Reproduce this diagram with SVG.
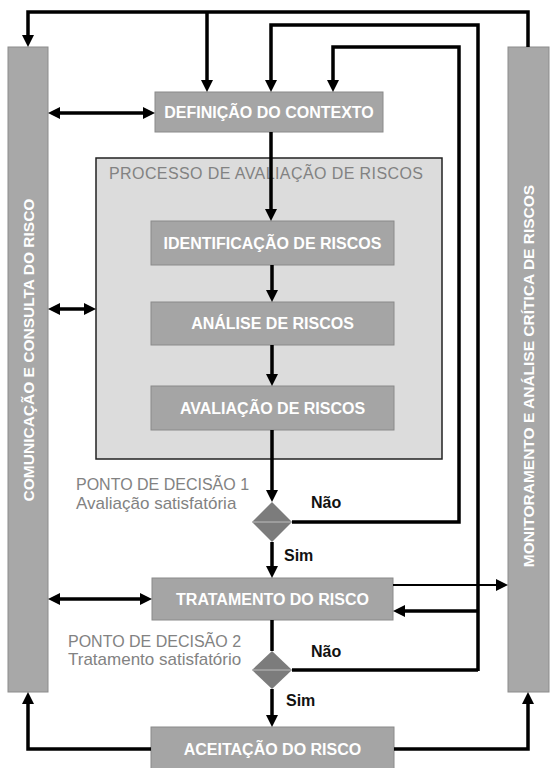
<svg xmlns="http://www.w3.org/2000/svg" width="554" height="768" viewBox="0 0 554 768">
<style>
.bar{fill:#a8a8a8;stroke:#8c8c8c;stroke-width:1}
.box{fill:#a5a5a5;stroke:#8a8a8a;stroke-width:1}
.bt{font-family:"Liberation Sans",Arial,sans-serif;font-weight:bold;font-size:16px;fill:#fff;text-anchor:middle}
.vt{font-family:"Liberation Sans",Arial,sans-serif;font-weight:bold;font-size:15.5px;fill:#fff;text-anchor:middle}
.gt{font-family:"Liberation Sans",Arial,sans-serif;font-size:16px;fill:#828282}
.lb{font-family:"Liberation Sans",Arial,sans-serif;font-weight:bold;font-size:16px;fill:#111}
.c{fill:none;stroke:#000;stroke-width:3.5}
.thin{fill:none;stroke:#000;stroke-width:2}
.dia{fill:#7c7c7c}
</style>
<defs>
<marker id="ah" viewBox="0 0 12 12" refX="8" refY="6" markerWidth="12" markerHeight="12" markerUnits="userSpaceOnUse" orient="auto-start-reverse">
<path d="M0,0 L12,6 L0,12 z" fill="#000"/>
</marker>
</defs>

<g id="comunicacao">
<rect class="bar" x="8" y="47" width="40" height="645"/>
<text class="vt" transform="translate(28,350) rotate(-90)" y="5.5">COMUNICAÇÃO E CONSULTA DO RISCO</text>
</g>
<g id="monitoramento">
<rect class="bar" x="508" y="47" width="41" height="645"/>
<text class="vt" transform="translate(528,376) rotate(-90)" y="5.5">MONITORAMENTO E ANÁLISE CRÍTICA DE RISCOS</text>
</g>
<g id="definicao">
<rect class="box" x="155" y="92" width="228" height="40"/>
<text class="bt" x="269" y="117.5">DEFINIÇÃO DO CONTEXTO</text>
</g>
<g id="processo">
<rect x="96" y="158" width="346" height="301" fill="#dcdcdc" stroke="#222" stroke-width="1.5"/>
<text class="gt" x="109" y="179" textLength="314">PROCESSO DE AVALIAÇÃO DE RISCOS</text>
</g>
<g id="identificacao">
<rect class="box" x="151" y="221" width="243" height="44"/>
<text class="bt" x="272.5" y="248.5">IDENTIFICAÇÃO DE RISCOS</text>
</g>
<g id="analise">
<rect class="box" x="151" y="302" width="243" height="43"/>
<text class="bt" x="272.5" y="329">ANÁLISE DE RISCOS</text>
</g>
<g id="avaliacao">
<rect class="box" x="151" y="386" width="243" height="44"/>
<text class="bt" x="272.5" y="413.5">AVALIAÇÃO DE RISCOS</text>
</g>
<g id="decisao1">
<polygon class="dia" points="272,502 292,522 272,542 252,522"/>
<line x1="252" y1="522" x2="292" y2="522" stroke="#bdbdbd" stroke-width="1"/>
<text class="gt" x="76" y="490">PONTO DE DECISÃO 1</text>
<text class="gt" x="76" y="509" style="font-size:17px">Avaliação satisfatória</text>
</g>
<g id="tratamento">
<rect class="box" x="152" y="578" width="241" height="42"/>
<text class="bt" x="272.5" y="604.5">TRATAMENTO DO RISCO</text>
</g>
<g id="decisao2">
<polygon class="dia" points="272,651 292,670 272,689 252,670"/>
<line x1="252" y1="670" x2="292" y2="670" stroke="#bdbdbd" stroke-width="1"/>
<text class="gt" x="68" y="647">PONTO DE DECISÃO 2</text>
<text class="gt" x="68" y="665" style="font-size:17px">Tratamento satisfatório</text>
</g>
<g id="aceitacao">
<rect class="box" x="151" y="727" width="243" height="46"/>
<text class="bt" x="272.5" y="754.5">ACEITAÇÃO DO RISCO</text>
</g>

<g id="connectors">
<path class="c" d="M528,47 V12 H28 V43" marker-end="url(#ah)"/>
<path class="c" d="M207,12 V88" marker-end="url(#ah)"/>
<path class="c" d="M478,671 V25 H271 V88" marker-end="url(#ah)"/>
<path class="c" d="M478,611 H397" marker-end="url(#ah)"/>
<path class="c" d="M292,522 H459 V47 H333 V88" marker-end="url(#ah)"/>
<path class="c" d="M271,132 V217" marker-end="url(#ah)"/>
<path class="c" d="M272,265 V298" marker-end="url(#ah)"/>
<path class="c" d="M272,345 V382" marker-end="url(#ah)"/>
<path class="c" d="M272,430 V498" marker-end="url(#ah)"/>
<path class="c" d="M272,542 V574" marker-end="url(#ah)"/>
<path class="c" d="M272,620 V651"/>
<path class="c" d="M292,670 H478"/>
<path class="c" d="M272,689 V723" marker-end="url(#ah)"/>
<path class="thin" d="M393,585 H504" marker-end="url(#ah)"/>
<path class="c" d="M151,749 H28 V696" marker-end="url(#ah)"/>
<path class="c" d="M394,749 H528 V696" marker-end="url(#ah)"/>
<path class="c" d="M52,113 H151" marker-start="url(#ah)" marker-end="url(#ah)"/>
<path class="c" d="M52,309 H92" marker-start="url(#ah)" marker-end="url(#ah)"/>
<path class="c" d="M52,599 H148" marker-start="url(#ah)" marker-end="url(#ah)"/>
<text class="lb" x="311" y="508">Não</text>
<text class="lb" x="284" y="561">Sim</text>
<text class="lb" x="311" y="657">Não</text>
<text class="lb" x="286" y="706">Sim</text>
</g>
</svg>
